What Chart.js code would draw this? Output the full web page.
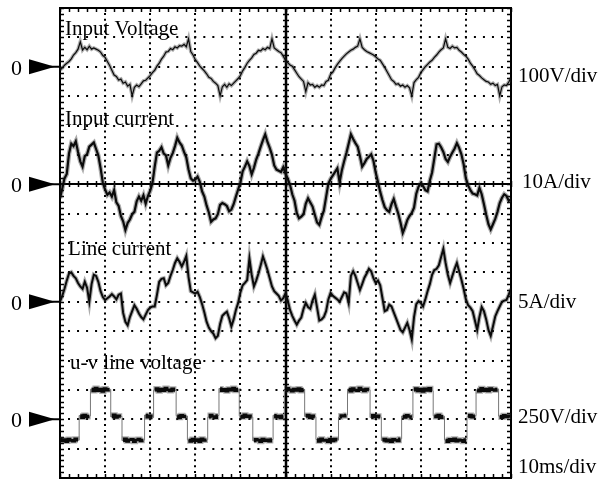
<!DOCTYPE html>
<html>
<head>
<meta charset="utf-8">
<script src="https://cdn.jsdelivr.net/npm/chart.js@4/dist/chart.umd.min.js"></script>
<style>
  html, body { margin: 0; padding: 0; background: #fff; }
  #wrap { width: 600px; height: 479px; }
</style>
</head>
<body>
<div id="wrap"><canvas id="scope" width="600" height="479"></canvas></div>
<script>
// Captured traces, one sample every SAMPLE_MS milliseconds (0 .. 100 ms)
const SAMPLE_MS = 0.5;

// Input voltage [V]
const inputVoltage = [
  -12, -4, 5, 12, 18, 27, 40, 48, 60, 85,
  57, 66, 58, 70, 60, 64, 60, 56, 50, 38,
  32, 18, 4, -12, -28, -33, -45, -42, -56, -52,
  -66, -60, -99, -70, -62, -68, -58, -48, -46, -38,
  -30, -20, -12, 2, 12, 26, 36, 50, 52, 62,
  58, 68, 64, 72, 70, 76, 68, 95, 52, 40,
  24, 14, 2, -6, -14, -24, -36, -40, -50, -56,
  -64, -99, -68, -60, -70, -58, -64, -56, -48, -40,
  -30, -14, -2, 12, 22, 30, 42, 46, 56, 54,
  62, 58, 66, 62, 95, 64, 58, 52, 48, 36,
  22, 14, 6, 2, -10, -22, -34, -42, -50, -85,
  -54, -62, -60, -70, -64, -70, -62, -64, -50, -46,
  -26, -18, -4, 8, 18, 28, 36, 44, 50, 56,
  60, 66, 70, 95, 66, 58, 52, 48, 44, 40,
  34, 26, 22, 10, -2, -16, -30, -44, -50, -60,
  -58, -66, -62, -70, -64, -72, -99, -54, -44, -36,
  -20, -10, 0, 8, 16, 22, 32, 40, 50, 58,
  64, 95, 66, 62, 70, 64, 66, 56, 50, 42,
  36, 26, 12, 2, -10, -24, -30, -38, -44, -50,
  -52, -60, -56, -64, -60, -99, -68, -62, -64, -52,
  -38
];

// Input current [A]
const inputCurrent = [
  -4.8, -1.5, 2.0, 3.5, 10.5, 13.8, 13.0, 14.6, 11.0, 7.8,
  6.0, 9.6, 10.2, 12.8, 13.5, 14.2, 12.0, 9.8, 5.5, 0.5,
  -1.8, -3.6, -2.8, -4.2, -2.0, -6.2, -7.4, -10.8, -12.6, -15.6,
  -13.2, -12.0, -10.2, -9.4, -5.8, -4.2, -5.6, -3.8, -6.6, -4.0,
  -2.2, 0.4, 6.0, 10.8, 11.4, 12.6, 10.4, 9.8, 6.4, 9.0,
  10.6, 13.0, 15.8, 14.2, 13.2, 11.0, 9.2, 5.0, 2.0, 1.2,
  1.6, 2.6, 0.8, -2.4, -4.2, -7.2, -9.6, -12.8, -12.0, -11.6,
  -10.2, -7.0, -6.4, -6.8, -7.4, -9.2, -8.6, -6.8, -4.2, -1.8,
  0.6, 4.4, 6.0, 7.8, 6.2, 3.4, 5.6, 8.4, 10.4, 12.8,
  15.0, 17.0, 14.4, 12.4, 10.0, 6.4, 5.0, 4.6, 4.2, 5.8,
  3.6, 1.8, -0.2, -3.4, -5.6, -9.8, -11.6, -11.0, -10.2, -6.6,
  -4.8, -6.2, -7.6, -10.4, -13.0, -13.8, -11.2, -9.0, -4.4, 0.2,
  1.8, 3.0, 4.2, 5.4, 0.6, 4.8, 7.8, 10.6, 13.8, 17.0,
  15.4, 14.0, 12.8, 9.6, 6.0, 7.2, 8.6, 9.4, 10.2, 8.0,
  4.0, 0.8, -2.6, -5.4, -7.8, -8.8, -9.4, -6.8, -5.0, -7.6,
  -10.0, -13.0, -16.6, -14.6, -12.2, -10.8, -9.8, -8.0, -3.2, -0.8,
  0.4, -0.6, -2.0, -2.4, 1.2, 4.0, 8.8, 13.6, 13.8, 12.6,
  11.0, 8.6, 7.6, 9.4, 10.8, 12.2, 14.0, 12.4, 10.2, 6.8,
  2.0, -0.4, -2.0, -3.2, -3.4, -3.8, -1.2, -3.4, -6.8, -10.4,
  -13.6, -15.4, -13.6, -11.8, -9.4, -6.4, -4.6, -3.4, -4.0, -5.6,
  -5.2
];

// Line current [A]
const lineCurrent = [
  0.0, 1.0, 2.2, 3.6, 4.8, 5.0, 4.4, 4.0, 3.2, 2.6,
  2.2, 3.4, 2.4, 0.0, 3.0, 4.6, 4.4, 3.4, 1.8, 0.8,
  0.3, 0.6, 0.9, 1.3, 0.9, 0.4, 1.2, 1.4, -1.9, -3.4,
  -4.0, -2.6, -1.6, -0.6, -1.2, -2.0, -2.6, -3.0, -2.2, -1.4,
  -1.0, -0.8, -0.8, 1.2, 3.4, 3.9, 4.0, 2.8, 3.2, 4.4,
  5.4, 6.6, 7.4, 6.8, 6.0, 6.8, 7.8, 4.2, 1.8, 1.6,
  1.4, 1.7, 0.8, -0.4, -1.8, -3.4, -4.4, -5.0, -5.4, -6.2,
  -5.8, -3.8, -2.4, -2.0, -1.7, -2.8, -4.2, -3.0, -1.4, -0.2,
  1.6, 2.8, 3.2, 3.7, 7.4, 4.6, 2.6, 3.6, 4.8, 6.2,
  7.7, 6.6, 5.4, 4.0, 2.6, 1.8, 1.4, 1.0, 0.2, 0.6,
  1.4, 0.2, -1.4, -2.4, -3.2, -3.9, -3.2, -2.7, -1.2, -0.2,
  -0.9, -1.2, 0.2, 1.2, -1.0, -3.2, -3.0, -2.6, -1.6, 0.4,
  1.5, 1.0, 0.7, 0.4, 0.0, 0.8, 1.6, 1.4, -0.2, 4.4,
  5.2, 4.4, 3.2, 2.0, 3.0, 4.1, 4.8, 5.6, 5.2, 4.0,
  3.2, 3.6, 2.8, 0.6, -1.6, -1.4, -0.5, -0.8, -1.8, -2.8,
  -3.8, -4.8, -5.2, -4.4, -3.6, -4.8, -6.4, -2.6, -0.4, 0.1,
  -0.2, -0.8, 0.4, 1.8, 3.0, 4.6, 5.4, 5.6, 6.2, 7.6,
  9.0, 6.6, 4.6, 3.2, 4.4, 5.6, 6.6, 5.2, 3.8, 2.2,
  0.4, -0.6, -1.0, -1.6, -3.2, -4.8, -2.6, -0.9, -1.6, -3.0,
  -4.8, -5.8, -4.2, -2.5, -1.6, -0.8, 0.0, 0.2, 0.3, 1.2,
  2.2
];

// u-v line voltage [V]
const uvLineVoltage = [
  -170, -184, -172, -190, -168, -180, -186, -166, -178,
  32, 14, 36, 20, 28,
  256, 240, 266, 244, 258, 236, 262, 248, 254,
  20, 38, 16, 30, 24,
  -182, -166, -188, -174, -170, -192, -176, -168, -184, -178,
  36, 18, 30, 14,
  248, 262, 238, 256, 244, 266, 250, 240, 260, 246,
  30, 12, 34, 22, 28,
  -176, -188, -168, -182, -172, -190, -166, -180, -174,
  18, 36, 24, 14, 32,
  262, 244, 254, 238, 260, 248, 266, 242, 256,
  28, 16, 38, 22, 30, 18,
  -184, -170, -178, -192, -168, -182, -174, -186, -172,
  34, 20, 28, 12, 30,
  244, 264, 250, 238, 258, 246, 262, 240, 254,
  24, 36, 14, 30, 20,
  -172, -188, -166, -180, -176, -192, -170, -184, -168, -178,
  18, 32, 26, 36,
  256, 238, 262, 248, 244, 266, 252, 240, 258, 250,
  14, 34, 22, 30, 18,
  -180, -168, -186, -174, -190, -170, -178, -184, -166,
  28, 16, 34, 24, 12,
  248, 262, 240, 256, 236, 260, 246, 264, 242,
  30, 20, 36, 14, 26,
  -176, -190, -170, -182, -166, -186, -174, -180, -192, -172,
  22, 36, 18, 30,
  250, 238, 264, 244, 256, 240, 262, 252, 246, 258,
  26, 14, 34, 20, 30, 24
];

// Channel captions and vertical sensitivities
const channelNames = ['Input Voltage', 'Input current', 'Line current', 'u-v line voltage'];
const scaleLabels = ['100V/div', '10A/div', '5A/div', '250V/div'];
const unitsPerDiv = [100, 10, 5, 250];
const timeLabel = '10ms/div';

// ---- screen layout (divisions; the screen spans -8 .. +8 div, 0 .. 100 ms) ----
const zeroDiv = [6, 2, -2, -6];                 // reference level of each channel
const nameAnchor = [[1.1, 7.08], [1.1, 4.02], [1.8, -0.41], [2.2, -4.29]]; // [ms, div] baseline
const scaleLabelDiv = [5.48, 1.87, -2.21, -6.13];
const scaleLabelDx = [7, 11, 7, 7];
const timeLabelDiv = -7.83;

const PAD = { left: 60, top: 8, right: 89, bottom: 1 };
const PLOT_W = 600 - PAD.left - PAD.right;
const PLOT_H = 479 - PAD.top - PAD.bottom;
const SERIF = '"Liberation Serif", "Times New Roman", Times, serif';

const traces = [inputVoltage, inputCurrent, lineCurrent, uvLineVoltage];
const coreWidth = [1.2, 2.2, 2.0, 2.6];   // dark trace
const haloWidth = [3.6, 4.6, 4.2, 5.0];   // grey noise band around it

function points(c) {
  return traces[c].map((v, i) => ({ x: i * SAMPLE_MS, y: zeroDiv[c] + v / unitsPerDiv[c] }));
}
// a level jump of the stepped u-v trace is drawn thin and grey
const isJump = (s) => Math.abs(s.p1.parsed.y - s.p0.parsed.y) > 0.4;

const cores = traces.map((_, c) => ({
  label: channelNames[c],
  data: points(c),
  borderColor: '#0a0a0a',
  borderWidth: coreWidth[c],
  pointRadius: 0,
  tension: 0,
  fill: false,
  stepped: c === 3 ? 'middle' : false,
  segment: c === 3 ? {
    borderWidth: (s) => isJump(s) ? 1 : undefined,
    borderColor: (s) => isJump(s) ? '#777' : undefined
  } : {}
}));
const halos = traces.map((_, c) => ({
  label: channelNames[c] + ' band',
  data: points(c),
  borderColor: 'rgba(50,50,50,0.4)',
  borderWidth: haloWidth[c],
  pointRadius: 0,
  tension: 0,
  fill: false,
  stepped: c === 3 ? 'middle' : false,
  segment: c === 3 ? {
    borderColor: (s) => isJump(s) ? 'rgba(0,0,0,0)' : undefined
  } : {}
}));

function seg(ctx, x1, y1, x2, y2) {
  ctx.beginPath(); ctx.moveTo(x1, y1); ctx.lineTo(x2, y2); ctx.stroke();
}

// Graticule: solid centre lines, minor ticks, frame, captions and markers
const graticule = {
  id: 'graticule',
  beforeDatasetsDraw(chart) {
    const { ctx, chartArea: a, scales: { x, y } } = chart;
    ctx.save();
    ctx.strokeStyle = '#000';
    ctx.lineCap = 'butt';
    const xc = Math.round(x.getPixelForValue(50));
    const yc = Math.round(y.getPixelForValue(zeroDiv[1]));
    ctx.lineWidth = 2.5;
    seg(ctx, xc, a.top, xc, a.bottom);
    ctx.lineWidth = 2;
    seg(ctx, a.left, yc, a.right, yc);

    ctx.lineWidth = 1.5;
    // minor ticks on vertical edges and centre line (every 0.2 div)
    for (let d = -8; d <= 8.001; d += 0.2) {
      const py = Math.round(y.getPixelForValue(d)) + 0.5;
      seg(ctx, a.left, py, a.left + 4, py);
      seg(ctx, a.right - 4, py, a.right, py);
      seg(ctx, xc - 3, py, xc + 3, py);
    }
    // minor ticks on horizontal edges and current zero line (every 2 ms)
    for (let t = 0; t <= 100.001; t += 2) {
      const px = Math.round(x.getPixelForValue(t)) + 0.5;
      seg(ctx, px, a.top, px, a.top + 4);
      seg(ctx, px, a.bottom - 4, px, a.bottom);
      seg(ctx, px, yc - 3, px, yc + 3);
    }
    ctx.lineWidth = 2;
    ctx.strokeRect(a.left, a.top, a.right - a.left, a.bottom - a.top);
    ctx.restore();
  },
  afterDraw(chart) {
    const { ctx, chartArea: a, scales: { x, y } } = chart;
    ctx.save();
    ctx.fillStyle = '#000';
    ctx.strokeStyle = '#000';
    ctx.textBaseline = 'alphabetic';

    channelNames.forEach((name, c) => {
      ctx.font = '21px ' + SERIF;
      ctx.textAlign = 'left';
      // caption inside the screen
      ctx.fillText(name, x.getPixelForValue(nameAnchor[c][0]), y.getPixelForValue(nameAnchor[c][1]));
      // sensitivity on the right
      ctx.fillText(scaleLabels[c], a.right + scaleLabelDx[c], y.getPixelForValue(scaleLabelDiv[c]));
      // reference marker on the left
      const zy = y.getPixelForValue(zeroDiv[c]);
      ctx.font = '22px ' + SERIF;
      ctx.textAlign = 'right';
      ctx.fillText('0', 22, zy + 8);
      ctx.beginPath();
      ctx.moveTo(29, zy - 7.5);
      ctx.lineTo(55, zy);
      ctx.lineTo(29, zy + 7.5);
      ctx.closePath();
      ctx.fill();
      ctx.lineWidth = 2;
      seg(ctx, 50, zy, a.left, zy);
    });
    ctx.font = '21px ' + SERIF;
    ctx.textAlign = 'left';
    ctx.fillText(timeLabel, a.right + 7, y.getPixelForValue(timeLabelDiv));
    ctx.restore();
  }
};

new Chart(document.getElementById('scope'), {
  type: 'line',
  data: { datasets: cores.concat(halos) },
  options: {
    responsive: false,
    animation: false,
    devicePixelRatio: 1,
    layout: { padding: PAD },
    plugins: { legend: { display: false }, tooltip: { enabled: false } },
    scales: {
      x: {
        type: 'linear', min: 0, max: 100,
        ticks: { display: false, stepSize: 10 },
        grid: { color: '#000', lineWidth: 2, drawTicks: false },
        border: { display: false, dash: [2, PLOT_H / 80 - 2], dashOffset: 1 }
      },
      y: {
        type: 'linear', min: -8, max: 8,
        ticks: { display: false, stepSize: 1 },
        grid: { color: '#000', lineWidth: 2, drawTicks: false },
        border: { display: false, dash: [2, PLOT_W / 50 - 2], dashOffset: 1 }
      }
    }
  },
  plugins: [graticule]
});
</script>
</body>
</html>
